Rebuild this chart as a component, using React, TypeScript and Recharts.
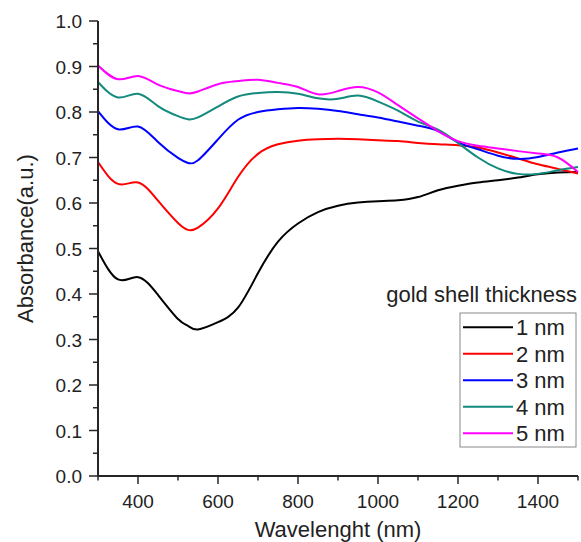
import React from "react";
import { LineChart, Line, XAxis, YAxis, Legend, Label } from "recharts";

// wavelength (nm)
const wavelengths = [
  300, 350, 400, 450, 500, 525, 550, 600, 650, 700, 750, 800, 850, 900, 950,
  1000, 1050, 1100, 1150, 1200, 1250, 1300, 1350, 1400, 1450, 1500
];

// absorbance per gold shell thickness
const nm1 = [
  0.494, 0.432, 0.437, 0.398, 0.345, 0.33, 0.322, 0.338, 0.37, 0.446, 0.515, 0.555, 0.58, 0.594, 0.601,
  0.604, 0.606, 0.613, 0.628, 0.638, 0.645, 0.65, 0.656, 0.663, 0.667, 0.668
];
const nm2 = [
  0.69, 0.642, 0.645, 0.605, 0.556, 0.541, 0.546, 0.588, 0.657, 0.708, 0.729, 0.737, 0.74, 0.741, 0.74,
  0.738, 0.736, 0.732, 0.729, 0.727, 0.722, 0.711, 0.698, 0.685, 0.675, 0.665
];
const nm3 = [
  0.802, 0.762, 0.768, 0.734, 0.699, 0.688, 0.694, 0.74, 0.783, 0.8, 0.806, 0.809, 0.807, 0.802, 0.795,
  0.788, 0.779, 0.77, 0.758, 0.734, 0.718, 0.704, 0.697, 0.701, 0.711, 0.72
];
const nm4 = [
  0.866, 0.832, 0.84, 0.813, 0.791, 0.784, 0.788, 0.812, 0.834, 0.842, 0.844, 0.84, 0.83, 0.829, 0.836,
  0.823, 0.803, 0.779, 0.761, 0.732, 0.7, 0.676, 0.664, 0.664, 0.672, 0.679
];
const nm5 = [
  0.902, 0.872, 0.879, 0.86, 0.846, 0.841, 0.845, 0.861, 0.868, 0.871, 0.864, 0.855, 0.839, 0.846, 0.855,
  0.843, 0.815, 0.786, 0.758, 0.736, 0.726, 0.72, 0.714, 0.709, 0.7, 0.668
];

const seriesNames = ["1 nm", "2 nm", "3 nm", "4 nm", "5 nm"];
const seriesColors = ["#000000", "#ff0000", "#0000ff", "#128a7c", "#ff00ff"];
const seriesValues = [nm1, nm2, nm3, nm4, nm5];

const xTicks = [300, 400, 500, 600, 700, 800, 900, 1000, 1100, 1200, 1300, 1400, 1500];
const yTicks = [
  0, 0.05, 0.1, 0.15, 0.2, 0.25, 0.3, 0.35, 0.4, 0.45, 0.5, 0.55, 0.6, 0.65, 0.7, 0.75, 0.8, 0.85, 0.9,
  0.95, 1.0
];

const data = wavelengths.map((w, i) => {
  const row: any = { w };
  seriesNames.forEach((n, k) => (row[n] = seriesValues[k][i]));
  return row;
});

const FONT = "'Liberation Sans', Arial, sans-serif";
const AXIS = "#262626";

const XTick = (props: any) => {
  const { x, y, payload } = props;
  const major = payload.value % 200 === 0;
  return (
    <g>
      <line x1={x} x2={x} y1={y} y2={y + (major ? 8 : 4.5)} stroke={AXIS} strokeWidth={1.5} />
      {major && (
        <text x={x} y={y + 31.5} textAnchor="middle" fontSize={19} fill="#222" fontFamily={FONT}>
          {payload.value}
        </text>
      )}
    </g>
  );
};

const YTick = (props: any) => {
  const { x, y, payload } = props;
  const major = Math.round(payload.value * 100) % 10 === 0;
  return (
    <g>
      <line x1={x - (major ? 9 : 5)} x2={x} y1={y} y2={y} stroke={AXIS} strokeWidth={1.5} />
      {major && (
        <text x={x - 16} y={y + 7} textAnchor="end" fontSize={19} fill="#222" fontFamily={FONT}>
          {payload.value.toFixed(1)}
        </text>
      )}
    </g>
  );
};

const LegendBox = (props: any) => {
  const { payload } = props;
  return (
    <svg width={200} height={175} style={{ display: "block" }}>
      <text x={197} y={22} textAnchor="end" fontSize={22} fill="#222" fontFamily={FONT}>
        gold shell thickness
      </text>
      <rect x={80} y={33} width={116} height={134} fill="#fff" stroke="#888" strokeWidth={1} />
      {(payload || []).map((p: any, i: number) => (
        <g key={p.value}>
          <line x1={83} x2={133} y1={47.3 + i * 26.5} y2={47.3 + i * 26.5} stroke={p.color} strokeWidth={2} />
          <text x={136} y={47.3 + i * 26.5 + 8} fontSize={22} fill="#222" fontFamily={FONT}>
            {p.value}
          </text>
        </g>
      ))}
    </svg>
  );
};

export default function App() {
  return (
    <div style={{ position: "absolute", left: 0, top: 0, width: 581, height: 542, background: "#fff" }}>
      <LineChart width={581} height={542} data={data} margin={{ top: 21, right: 3, left: 0, bottom: 0 }}>
        <XAxis
          dataKey="w"
          type="number"
          domain={[300, 1500]}
          ticks={xTicks}
          interval={0}
          height={66}
          tickSize={0}
          tickMargin={0}
          tickLine={false}
          tick={<XTick />}
          axisLine={{ stroke: AXIS, strokeWidth: 2 }}
        >
          <Label
            content={(p: any) => {
              const vb = p.viewBox;
              return (
                <text x={vb.x + vb.width / 2} y={vb.y + vb.height - 5} textAnchor="middle" fontSize={22} fill="#222" fontFamily={FONT}>
                  Wavelenght (nm)
                </text>
              );
            }}
          />
        </XAxis>
        <YAxis
          type="number"
          domain={[0, 1]}
          ticks={yTicks}
          interval={0}
          width={98}
          tickSize={0}
          tickMargin={0}
          tickLine={false}
          tick={<YTick />}
          axisLine={{ stroke: AXIS, strokeWidth: 2 }}
        >
          <Label
            content={(p: any) => {
              const vb = p.viewBox;
              const cx = 33;
              const cy = vb.y + vb.height / 2 - 10;
              return (
                <text x={cx} y={cy} transform={`rotate(-90, ${cx}, ${cy})`} textAnchor="middle" fontSize={22} fill="#222" fontFamily={FONT}>
                  Absorbance(a.u.)
                </text>
              );
            }}
          />
        </YAxis>
        <Legend
          layout="vertical"
          align="center"
          verticalAlign="middle"
          content={<LegendBox />}
          wrapperStyle={{ position: "absolute", left: 380, top: 280, width: 200, height: 175 }}
        />
        {seriesNames.map((n, k) => (
          <Line
            key={n}
            dataKey={n}
            name={n}
            type="natural"
            stroke={seriesColors[k]}
            strokeWidth={2}
            dot={false}
            activeDot={false}
            isAnimationActive={false}
          />
        ))}
      </LineChart>
    </div>
  );
}
